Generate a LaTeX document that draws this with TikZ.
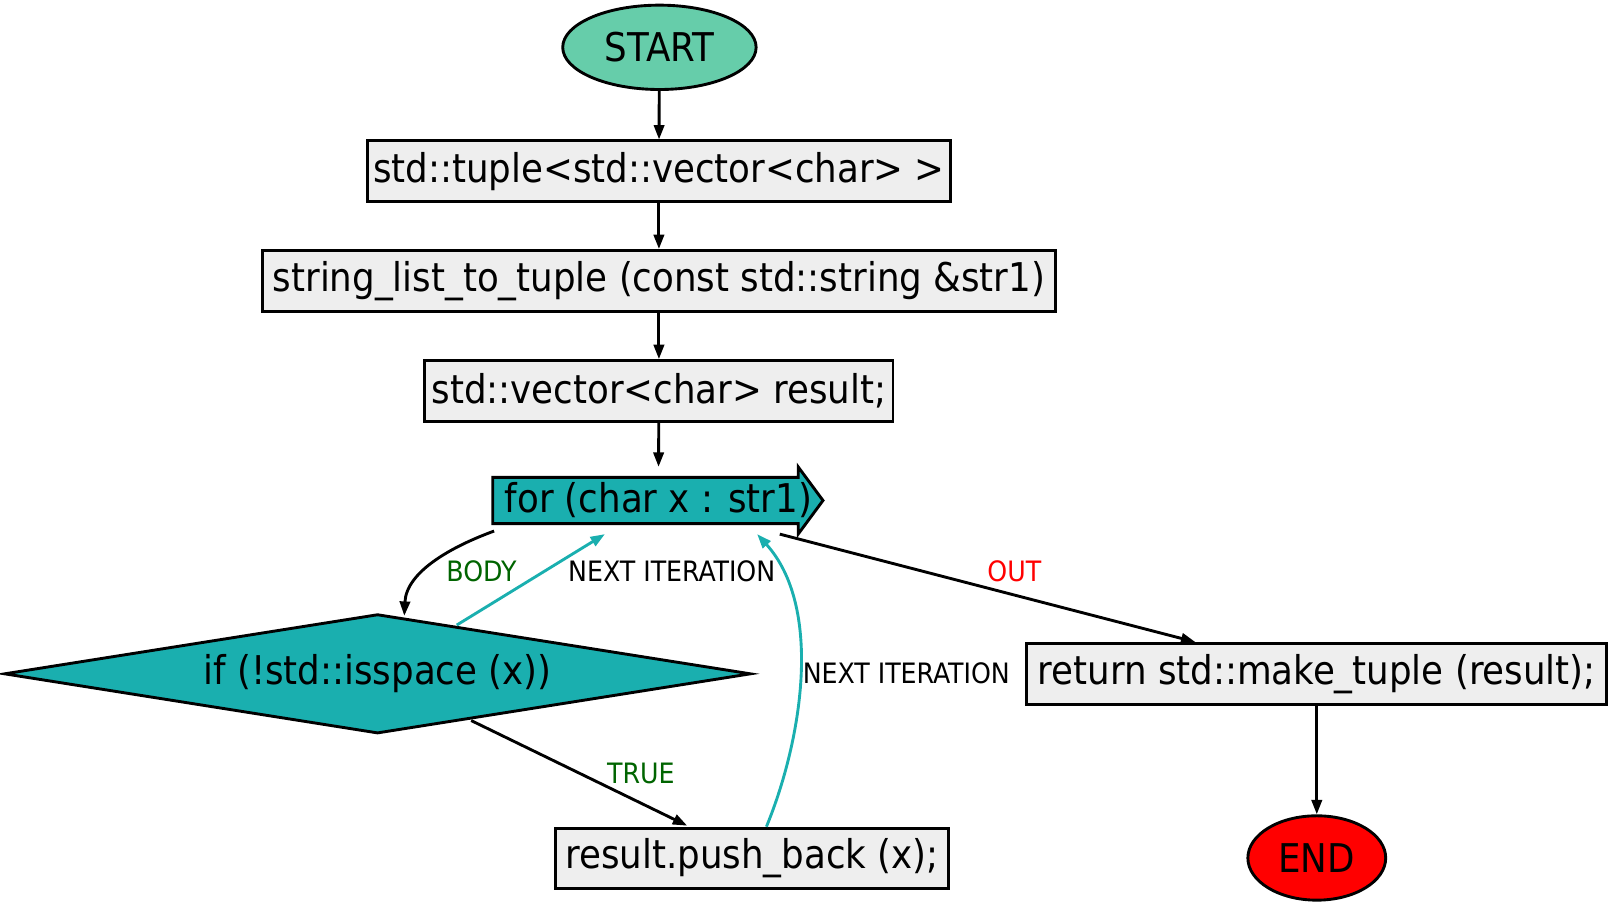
\documentclass[tikz,border=0pt]{standalone}
\usepackage{fontspec}
\setmainfont{DejaVu Sans Condensed}
\usetikzlibrary{arrows.meta,shapes.geometric,calc}
\definecolor{boxgray}{HTML}{EEEEEE}
\definecolor{teal1}{HTML}{1AAFAF}
\definecolor{startgreen}{HTML}{66CDAA}
\definecolor{lblgreen}{HTML}{006400}
\tikzset{
  tip/.style={-{Triangle[length=14pt,width=10pt]}},
  mainfont/.style={font=\fontsize{38.5}{46}\selectfont},
  procbox/.style={draw, line width=2.8pt, fill=boxgray, mainfont, inner sep=0pt, minimum height=59pt},
  term/.style={draw, ellipse, line width=2.8pt, mainfont, inner sep=0pt, minimum height=82pt},
  conn/.style={line width=2.8pt, tip},
  tconn/.style={line width=2.8pt, tip, draw=teal1, color=teal1},
  lbl/.style={font=\fontsize{27.3}{31}\selectfont, inner sep=0pt}
}
\begin{document}
\begin{tikzpicture}[x=1pt,y=-1pt]
\useasboundingbox (0,0) rectangle (1566,881);
% nodes
\node[term, fill=startgreen, minimum width=188pt] (start) at (641,46) {START};
\node[procbox, minimum width=567pt] (b1) at (640.5,166.5) {std::tuple<std::vector<char> >};
\node[procbox, minimum width=771pt] (b2) at (640.5,273) {string\_list\_to\_tuple (const std::string \&str1)};
\node[procbox, minimum width=455pt] (b3) at (640.5,380) {std::vector<char> result;};
% for shape (rarrow)
\coordinate (fc) at (640,486.5);
\draw[line width=2.8pt, fill=teal1, line join=miter]
  ($(fc)+(-161,-22.5)$) -- ($(fc)+(136,-22.5)$) -- ($(fc)+(136,-32.5)$) -- ($(fc)+(160,0)$)
  -- ($(fc)+(136,32.5)$) -- ($(fc)+(136,22.5)$) -- ($(fc)+(-161,22.5)$) -- cycle;
\node[inner sep=0pt, minimum width=321pt, minimum height=65pt, mainfont] (for) at (fc) {for (char x : str1)};
\node[draw, diamond, line width=2.8pt, fill=teal1, minimum width=726pt, minimum height=116pt, aspect=6.3, inner sep=0pt, mainfont] (if) at (367,655) {if (!std::isspace (x))};
\node[procbox, minimum width=382pt] (push) at (731,834.5) {result.push\_back (x);};
\node[procbox, minimum width=564pt] (ret) at (1280,655) {return std::make\_tuple (result);};
\node[term, fill=red, minimum width=134pt] (end) at (1280,834) {END};
% connectors
\draw[conn] (start) -- (b1);
\draw[conn] (b1) -- (b2);
\draw[conn] (b2) -- (b3);
\draw[conn] (b3) -- (for);
\draw[conn] ($(for.south west)+(1,-3)$) .. controls ($(for.south west)+(-40,12)$) and ($(if.north)+(28,-40)$) .. ($(if.north)+(26,3)$);
\draw[tconn] ($(if.north)+(77,12)$) -- ($(for.south)+(-52,0)$);
\draw[conn] ($(if.south)+(91,-14)$) -- ($(push.north)+(-63,-1)$);
\draw[tconn] ($(push.north)+(14,0)$) .. controls ($(push.north)+(49,-85)$) and ($(for.south)+(160,71)$) .. ($(for.south)+(96,0)$);
\draw[conn] ($(for.south)+(118,0)$) -- ($(ret.north)+(-118,0)$);
\draw[conn] (ret) -- (end);
% labels
\node[lbl, text=lblgreen] (lbody) at (468,555) {BODY};
\node[lbl] (lnext1) at (653,555) {NEXT ITERATION};
\node[lbl, text=red] (lout) at (986,555) {OUT};
\node[lbl, text=lblgreen] (ltrue) at (623,752) {TRUE};
\node[lbl] (lnext2) at (881,654) {NEXT ITERATION};
\end{tikzpicture}
\end{document}
